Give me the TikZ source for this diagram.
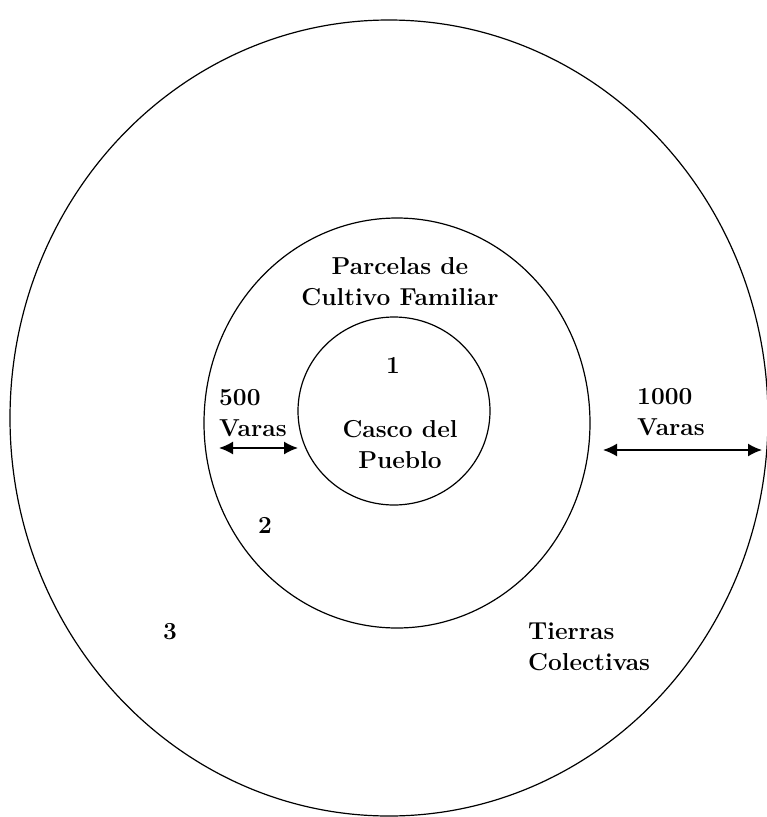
\documentclass[tikz,border=0pt]{standalone}
\usetikzlibrary{shapes.geometric,arrows.meta}
\begin{document}
\begin{tikzpicture}[x=1pt,y=-1pt,
        every node/.style={font=\fontsize{24.5}{31}\selectfont\bfseries},
        ring/.style={ellipse, draw, line width=1.2pt, inner sep=0pt},
        lbl/.style={align=center, inner sep=0pt},
        lbll/.style={align=left, anchor=west, inner sep=0pt},
        span/.style={{Latex[length=14pt,width=13pt]}-{Latex[length=14pt,width=13pt]}, line width=1.6pt}]
        \useasboundingbox (0,0) rectangle (767,817);
        % the three zones
        \node[ring, minimum width=758, minimum height=796] (outer) at (389,418) {};
        \node[ring, minimum width=386, minimum height=410] (middle) at (397,423) {};
        \node[ring, minimum width=192, minimum height=188] (inner) at (394,411) {};
        % labels
        \node[lbl] (parcelas) at (400,282) {Parcelas de\\Cultivo Familiar};
        \node[lbl] (one) at (393,365) {1};
        \node[lbl] (casco) at (400,445) {Casco del\\Pueblo};
        \node[lbll] (quinientas) at (219,413) {500\\Varas};
        \node[lbll] (mil) at (637,412) {1000\\Varas};
        \node[lbl] (two) at (265,525) {2};
        \node[lbl] (three) at (170,632) {3};
        \node[lbll] (tierras) at (528,647) {Tierras\\Colectivas};
        % widths
        \coordinate (a1) at (219,448);
        \coordinate (a2) at (298,448);
        \coordinate (b1) at (603,450);
        \coordinate (b2) at (762,450);
        \draw[span] (a1) -- (a2);
        \draw[span] (b1) -- (b2);
\end{tikzpicture}
\end{document}
